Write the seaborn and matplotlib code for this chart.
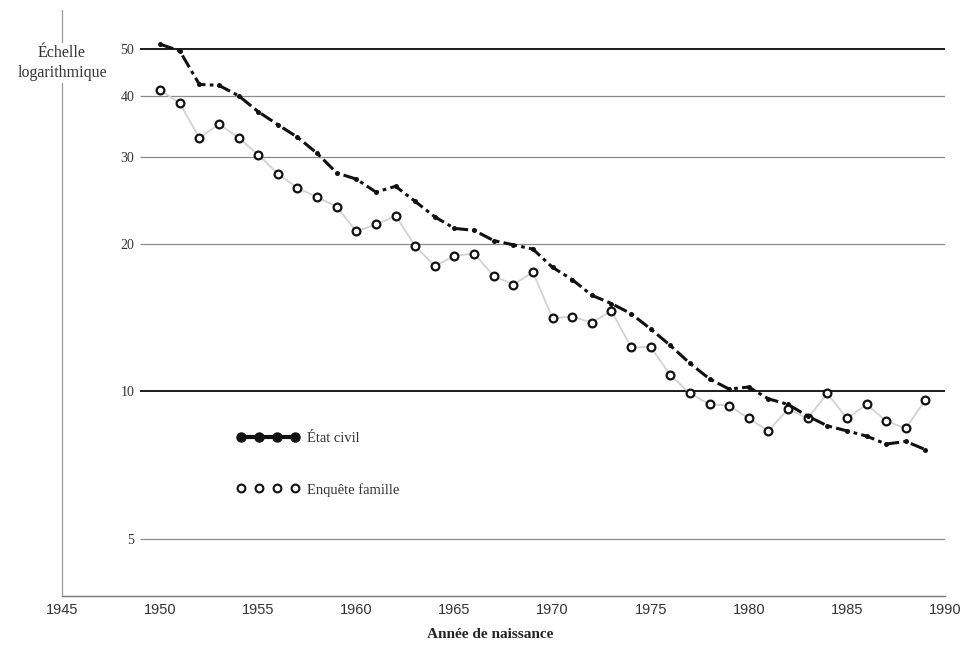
import numpy as np
import pandas as pd
import matplotlib
matplotlib.use("Agg")
import matplotlib.pyplot as plt
from matplotlib.lines import Line2D
from matplotlib.ticker import FixedLocator, FixedFormatter, NullLocator
import seaborn as sns

# ---------------- data ----------------
years = list(range(1950, 1990))
etat_civil = [51.1, 49.5, 42.3, 42.1, 40.1, 37.2, 35.0, 33.0, 30.6, 27.9,
              27.1, 25.5, 26.2, 24.4, 22.7, 21.5, 21.3, 20.3, 19.9, 19.5,
              17.9, 16.9, 15.7, 15.1, 14.4, 13.4, 12.4, 11.4, 10.6, 10.1,
              10.2, 9.65, 9.4, 8.9, 8.5, 8.3, 8.1, 7.8, 7.9, 7.6]
enquete_famille = [41.2, 38.7, 32.9, 35.1, 32.9, 30.4, 27.8, 26.0, 24.9, 23.8,
                   21.2, 21.9, 22.8, 19.8, 18.0, 18.9, 19.1, 17.2, 16.5, 17.5,
                   14.1, 14.2, 13.8, 14.6, 12.3, 12.3, 10.8, 9.9, 9.4, 9.35,
                   8.8, 8.3, 9.2, 8.8, 9.9, 8.8, 9.4, 8.7, 8.4, 9.6]
series_labels = ["État civil", "Enquête famille"]
y_ticks = [5, 10, 20, 30, 40, 50]
y_tick_labels = ["5", "10", "20", "30", "40", "50"]
x_ticks = [1945, 1950, 1955, 1960, 1965, 1970, 1975, 1980, 1985, 1990]
strong_grid = [10, 50]
light_grid = [5, 20, 30, 40]

df = pd.DataFrame({"annee": years, "etat": etat_civil, "enquete": enquete_famille})

# ---------------- style ----------------
sns.set_style("white")
plt.rcParams["font.family"] = ["Liberation Serif", "DejaVu Serif"]

fig = plt.figure(figsize=(9.67, 6.49), dpi=100)
ax = fig.add_axes([62 / 967, 1 - 596 / 649, (945 - 62) / 967, 586 / 649])

ax.set_yscale("log")
ax.set_xlim(1945, 1990)
ax.set_ylim(3.82, 60)

# gridlines (partial width)
ax.hlines(light_grid, 1949.0, 1990, colors="#8a8a8a", linewidth=0.9, zorder=1)
ax.hlines(strong_grid, 1949.0, 1990, colors="#1a1a1a", linewidth=1.4, zorder=1)

# series
sns.lineplot(data=df, x="annee", y="enquete", ax=ax, color="#d2d2d2",
             linewidth=1.3, marker="o", markersize=5.6, markerfacecolor="white",
             markeredgecolor="#111111", markeredgewidth=1.6, zorder=3)
sns.lineplot(data=df, x="annee", y="etat", ax=ax, color="#111111",
             linewidth=2.2, linestyle=(0, (4.5, 1.4, 1.2, 1.4)), marker="o",
             markersize=3.6, markeredgewidth=0, zorder=4)

# axes appearance
for s in ["top", "right"]:
    ax.spines[s].set_visible(False)
ax.spines["left"].set_color("#9a9a9a")
ax.spines["left"].set_linewidth(0.9)
ax.spines["bottom"].set_color("#7a7a7a")
ax.spines["bottom"].set_linewidth(1.0)

ax.yaxis.set_major_locator(FixedLocator(y_ticks))
ax.yaxis.set_major_formatter(FixedFormatter(y_tick_labels))
ax.yaxis.set_minor_locator(NullLocator())
ax.tick_params(axis="y", length=0, pad=-52, labelsize=10, labelcolor="#333333")
ax.set_xticks(x_ticks)
ax.set_xticklabels([str(t) for t in x_ticks], family=["Liberation Sans", "DejaVu Sans"])
ax.tick_params(axis="x", direction="inout", length=4, width=0.8, color="#7a7a7a",
               pad=3, labelsize=10.5, labelcolor="#333333")

ax.set_xlabel("Année de naissance", fontsize=11, fontweight="bold", color="#222222")
ax.xaxis.set_label_coords(0.485, -0.055)
ax.set_ylabel("")

fig.text(62 / 967, 1 - 63 / 649, "Échelle\nlogarithmique", ha="center", va="center",
         fontsize=11.5, color="#333333", linespacing=1.4,
         bbox=dict(facecolor="white", edgecolor="none", pad=1.5))

handles = [
    Line2D([], [], color="#111111", linewidth=3.0, marker="o", markersize=6.5),
    Line2D([], [], linestyle="none", marker="o", markersize=5.6, markerfacecolor="white",
           markeredgecolor="#111111", markeredgewidth=1.5),
]
leg = ax.legend(handles, series_labels, loc="center left",
                bbox_to_anchor=(0.19, 0.225), frameon=False, numpoints=4,
                handlelength=4.3, handletextpad=0.5, labelspacing=2.6,
                fontsize=10.5, borderpad=0)
for t in leg.get_texts():
    t.set_color("#333333")

fig.savefig("out.png", dpi=100)
